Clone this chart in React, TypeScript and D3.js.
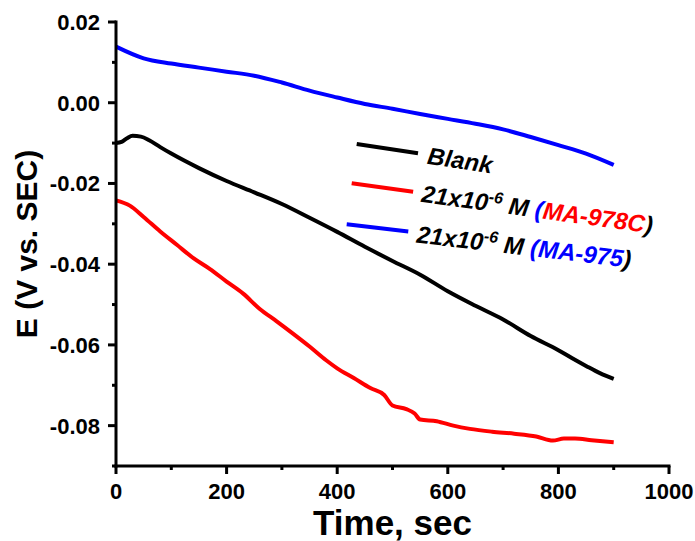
import React from "react";
import * as d3 from "d3";

// Time (sec) and potential E (V vs. SEC)
const blankTime = [0, 10, 20, 30, 45, 60, 80, 100, 150, 200, 250, 300, 350, 400, 450, 500, 550, 600, 650, 700, 750, 800, 825, 850, 875, 900];
const blankE = [-0.0100, -0.0097, -0.0088, -0.0082, -0.0084, -0.0093, -0.0110, -0.0126, -0.0162, -0.0194, -0.0222, -0.0251, -0.0285, -0.0320, -0.0357, -0.0392, -0.0426, -0.0467, -0.0503, -0.0537, -0.0578, -0.0613, -0.0633, -0.0652, -0.0670, -0.0684];

const ma978cTime = [0, 25, 50, 80, 110, 140, 170, 200, 230, 260, 290, 320, 350, 380, 400, 430, 460, 485, 500, 525, 540, 550, 580, 610, 640, 680, 720, 760, 790, 810, 830, 860, 900];
const ma978cE = [-0.0242, -0.0255, -0.0283, -0.0319, -0.0352, -0.0385, -0.0412, -0.0443, -0.0473, -0.0511, -0.0541, -0.0572, -0.0604, -0.0638, -0.0658, -0.0682, -0.0707, -0.0724, -0.0750, -0.0759, -0.0770, -0.0785, -0.0789, -0.0800, -0.0808, -0.0815, -0.0820, -0.0827, -0.0837, -0.0832, -0.0832, -0.0836, -0.0841];

const ma975Time = [0, 50, 100, 150, 200, 250, 300, 350, 400, 450, 500, 550, 600, 650, 700, 750, 800, 850, 900];
const ma975E = [0.0139, 0.0110, 0.0097, 0.0087, 0.0077, 0.0067, 0.0050, 0.0030, 0.0013, -0.0003, -0.0015, -0.0028, -0.0040, -0.0052, -0.0066, -0.0085, -0.0105, -0.0126, -0.0154];

const xTicks = [0, 200, 400, 600, 800, 1000];
const xMinor = [100, 300, 500, 700, 900];
const yTicks = [0.02, 0.0, -0.02, -0.04, -0.06, -0.08];
const yMinor = [0.01, -0.01, -0.03, -0.05, -0.07, -0.09];

const FONT = "'Liberation Sans', Arial, Helvetica, sans-serif";

export default function App() {
  const width = 695;
  const height = 541;

  const x = d3.scaleLinear().domain([0, 1000]).range([116, 669]);
  const y = d3.scaleLinear().domain([-0.09, 0.02]).range([466, 22]);

  const line = d3
    .line<[number, number]>()
    .x(d => x(d[0]))
    .y(d => y(d[1]))
    .curve(d3.curveMonotoneX);

  const series = [
    { t: blankTime, e: blankE, color: "#000000" },
    { t: ma978cTime, e: ma978cE, color: "#ff0000" },
    { t: ma975Time, e: ma975E, color: "#0000ff" },
  ];

  const x0 = x.range()[0];
  const y0 = y.range()[0];

  return (
    <svg
      width={width}
      height={height}
      style={{ position: "absolute", left: 0, top: 0, background: "#fff" }}
      fontFamily={FONT}
      fontWeight="bold"
    >
      {/* curves */}
      {series.map((s, i) => (
        <path
          key={i}
          d={line(s.t.map((t, j) => [t, s.e[j]] as [number, number])) || ""}
          fill="none"
          stroke={s.color}
          strokeWidth={4}
          strokeLinejoin="round"
        />
      ))}

      {/* axes */}
      <g stroke="#000" strokeWidth={3}>
        <line x1={x0} x2={x0} y1={y.range()[1]} y2={y0} strokeLinecap="square" />
        <line x1={x0} x2={x.range()[1]} y1={y0} y2={y0} strokeLinecap="square" />
        {xTicks.map(t => (
          <line key={"xt" + t} x1={x(t)} x2={x(t)} y1={y0} y2={y0 + 8} />
        ))}
        {xMinor.map(t => (
          <line key={"xm" + t} x1={x(t)} x2={x(t)} y1={y0} y2={y0 + 4} />
        ))}
        {yTicks.map(t => (
          <line key={"yt" + t} x1={x0 - 8} x2={x0} y1={y(t)} y2={y(t)} />
        ))}
        {yMinor.map(t => (
          <line key={"ym" + t} x1={x0 - 4} x2={x0} y1={y(t)} y2={y(t)} />
        ))}
      </g>

      {/* tick labels */}
      {xTicks.map(t => (
        <text key={"xl" + t} x={x(t)} y={499} textAnchor="middle" fontSize={22}>
          {t}
        </text>
      ))}
      {yTicks.map(t => (
        <text key={"yl" + t} x={100} y={y(t) + 8} textAnchor="end" fontSize={22}>
          {d3.format(".2f")(t).replace("\u2212", "-")}
        </text>
      ))}

      {/* axis titles */}
      <text x={(x.range()[0] + x.range()[1]) / 2} y={535} textAnchor="middle" fontSize={35}>
        Time, sec
      </text>
      <text
        transform={`translate(37, ${(y.range()[0] + y.range()[1]) / 2}) rotate(-90)`}
        textAnchor="middle"
        fontSize={30}
      >
        E (V vs. SEC)
      </text>

      {/* legend */}
      <g fontSize={24} fontStyle="italic">
        <g transform="translate(356.7,144) rotate(8.6)">
          <line x1={0} x2={62} y1={0} y2={0} stroke="#000" strokeWidth={4} />
          <text x={72} y={9}>Blank</text>
        </g>
        <g transform="translate(351.7,183.3) rotate(7.8)">
          <line x1={0} x2={62} y1={0} y2={0} stroke="#ff0000" strokeWidth={4} />
          <text x={71} y={9}>
            <tspan>21x10</tspan>
            <tspan fontSize={16} dy={-9}>-6</tspan>
            <tspan dy={9}> M </tspan>
            <tspan fill="#0000ff">(</tspan>
            <tspan fill="#ff0000">MA-978C</tspan>
            <tspan>)</tspan>
          </text>
        </g>
        <g transform="translate(346.7,224.3) rotate(6.7)">
          <line x1={0} x2={62} y1={0} y2={0} stroke="#0000ff" strokeWidth={4} />
          <text x={71} y={10}>
            <tspan>21x10</tspan>
            <tspan fontSize={16} dy={-9}>-6</tspan>
            <tspan dy={9}> M </tspan>
            <tspan fill="#0000ff">(</tspan>
            <tspan fill="#0000ff">MA-975</tspan>
            <tspan>)</tspan>
          </text>
        </g>
      </g>
    </svg>
  );
}
